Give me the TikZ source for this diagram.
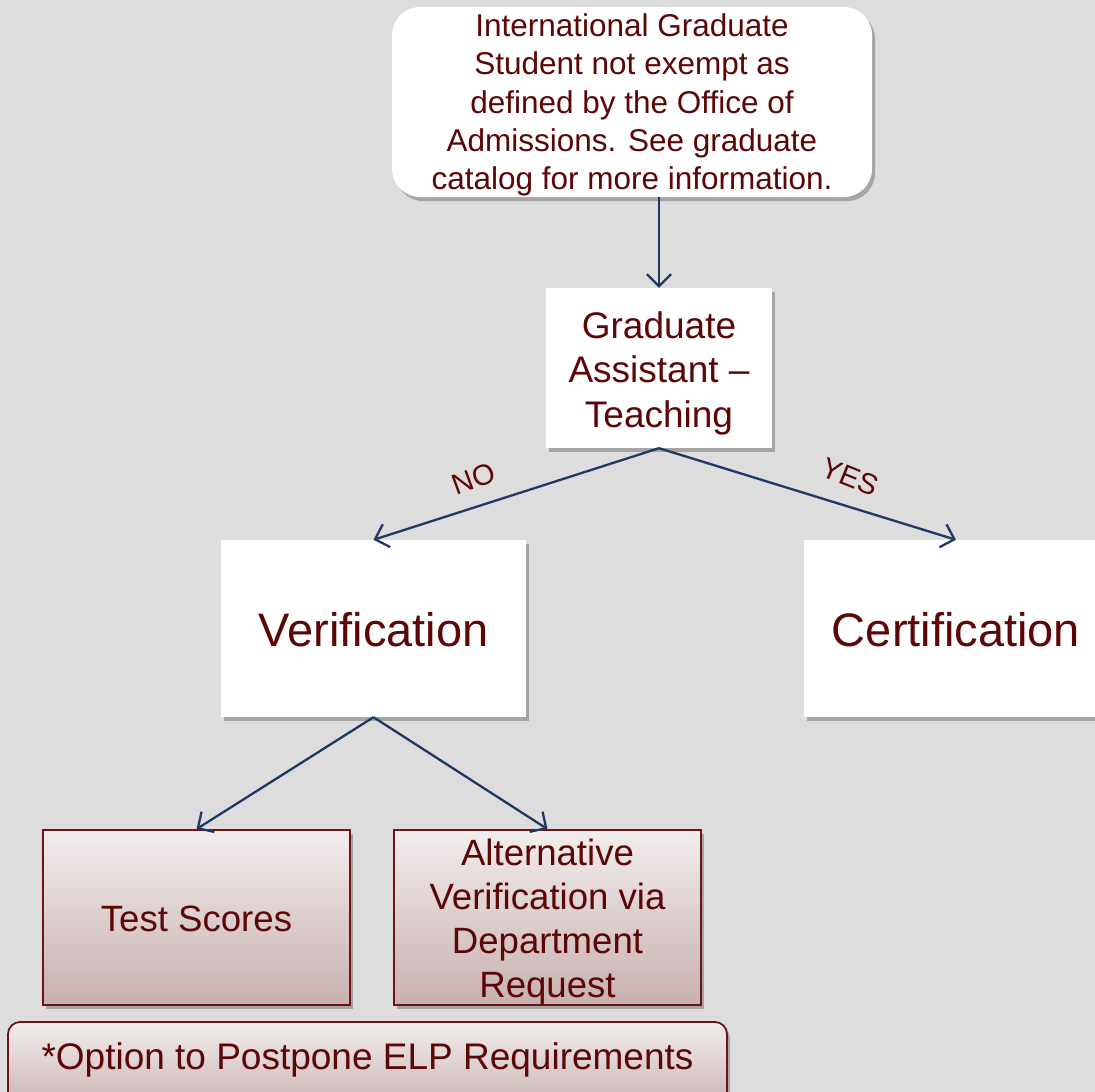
\documentclass[tikz,border=0pt]{standalone}
\usepackage{fontspec}
\setmainfont{Liberation Sans}
\usetikzlibrary{arrows.meta,shadows}
\definecolor{bg}{RGB}{221,221,221}
\definecolor{txt}{RGB}{92,6,6}
\definecolor{arr}{RGB}{31,56,100}
\definecolor{brd}{RGB}{110,20,20}
\definecolor{gtop}{RGB}{242,237,237}
\definecolor{gbot}{RGB}{200,176,176}
\begin{document}
\begin{tikzpicture}[x=1pt,y=-1pt,
  shad/.style={drop shadow={shadow xshift=3pt,shadow yshift=-4pt,opacity=0.25,fill=black}},
  whitebox/.style={rectangle,fill=white,inner sep=0pt,shad},
  pinkbox/.style={rectangle,draw=brd,line width=1.8pt,top color=gtop,bottom color=gbot,inner sep=0pt,shad},
  lbl/.style={text=txt,align=center,inner sep=0pt},
  conn/.style={draw=arr,line width=2.3pt,-{Straight Barb[length=12pt,width=24pt,line width=2.3pt]}}
]
\useasboundingbox (0,0) rectangle (1095,1092);
\fill[bg] (0,0) rectangle (1095,1092);

% boxes
\node[whitebox,rounded corners=28pt,minimum width=480pt,minimum height=190pt] (top) at (632,102) {};
\node[whitebox,minimum width=226pt,minimum height=160pt] (grad) at (659,368) {};
\node[whitebox,minimum width=305pt,minimum height=177pt] (ver) at (373.5,628.5) {};
\node[whitebox,minimum width=304pt,minimum height=177pt] (cert) at (956,628.5) {};
\node[pinkbox,minimum width=307pt,minimum height=175pt] (test) at (196.5,917.5) {};
\node[pinkbox,minimum width=307pt,minimum height=175pt] (alt) at (547.5,917.5) {};
\node[pinkbox,rounded corners=12pt,minimum width=719pt,minimum height=90pt] (opt) at (367.5,1067) {};

% texts
\node[lbl,font=\fontsize{31.5}{38.3}\selectfont] (toptxt) at (632,105)
  {International Graduate\\Student not exempt as\\defined by the Office of\\Admissions. See graduate\\catalog for more information.};
\node[lbl,font=\fontsize{37}{44.5}\selectfont] (gradtxt) at (659,373)
  {Graduate\\Assistant --\\Teaching};
\node[lbl,font=\fontsize{47}{56}\selectfont] (vertxt) at (373.5,630) {Verification};
\node[lbl,font=\fontsize{47}{56}\selectfont] (certtxt) at (956,630) {Certification};
\node[lbl,font=\fontsize{36.6}{44.3}\selectfont] (testtxt) at (196.5,919) {Test Scores};
\node[lbl,font=\fontsize{36.6}{44.3}\selectfont] (alttxt) at (547.5,922)
  {Alternative\\Verification via\\Department\\Request};
\node[lbl,font=\fontsize{37}{44}\selectfont] (opttxt) at (367.5,1060) {*Option to Postpone ELP Requirements};

% connectors
\draw[conn] (top.south -| grad.north) -- (grad.north);
\draw[conn] (grad.south) -- (ver.north);
\draw[conn] (grad.south) -- (cert.north);
\draw[conn] (ver.south) -- (test.north);
\draw[conn] (ver.south) -- (alt.north);

% branch labels
\node[lbl,font=\fontsize{29}{32}\selectfont,rotate=20] (no) at (474,479) {NO};
\node[lbl,font=\fontsize{29}{32}\selectfont,rotate=-22] (yes) at (850,477) {YES};
\end{tikzpicture}
\end{document}
